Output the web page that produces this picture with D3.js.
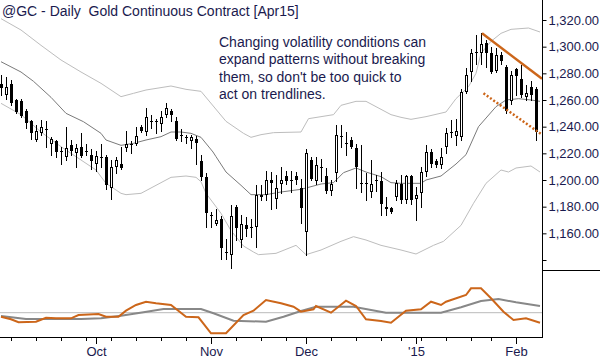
<!DOCTYPE html>
<html>
<head>
<meta charset="utf-8">
<script src="https://cdn.jsdelivr.net/npm/d3@7/dist/d3.min.js"></script>
<style>
  body { margin: 0; background: #fff; }
  svg { display: block; font-family: "Liberation Sans", Arial, sans-serif; }
</style>
</head>
<body>
<div id="chart"></div>
<script>
// trading days shown on the chart
var dates = [
  "2014-09-04","2014-09-05",
  "2014-09-08","2014-09-09","2014-09-10","2014-09-11","2014-09-12",
  "2014-09-15","2014-09-16","2014-09-17","2014-09-18","2014-09-19",
  "2014-09-22","2014-09-23","2014-09-24","2014-09-25","2014-09-26",
  "2014-09-29","2014-09-30","2014-10-01","2014-10-02","2014-10-03",
  "2014-10-06","2014-10-07","2014-10-08","2014-10-09","2014-10-10",
  "2014-10-13","2014-10-14","2014-10-15","2014-10-16","2014-10-17",
  "2014-10-20","2014-10-21","2014-10-22","2014-10-23","2014-10-24",
  "2014-10-27","2014-10-28","2014-10-29","2014-10-30","2014-10-31",
  "2014-11-03","2014-11-04","2014-11-05","2014-11-06","2014-11-07",
  "2014-11-10","2014-11-11","2014-11-12","2014-11-13","2014-11-14",
  "2014-11-17","2014-11-18","2014-11-19","2014-11-20","2014-11-21",
  "2014-11-24","2014-11-25","2014-11-26","2014-11-28",
  "2014-12-01","2014-12-02","2014-12-03","2014-12-04","2014-12-05",
  "2014-12-08","2014-12-09","2014-12-10","2014-12-11","2014-12-12",
  "2014-12-15","2014-12-16","2014-12-17","2014-12-18","2014-12-19",
  "2014-12-22","2014-12-23","2014-12-24","2014-12-26",
  "2014-12-29","2014-12-30","2014-12-31","2015-01-02",
  "2015-01-05","2015-01-06","2015-01-07","2015-01-08","2015-01-09",
  "2015-01-12","2015-01-13","2015-01-14","2015-01-15","2015-01-16",
  "2015-01-20","2015-01-21","2015-01-22","2015-01-23",
  "2015-01-26","2015-01-27","2015-01-28","2015-01-29","2015-01-30",
  "2015-02-02","2015-02-03","2015-02-04","2015-02-05","2015-02-06"
];

var opens = [
  1272,1264,1272,1260,1259,1252,1244,1230,1235,1238,1227,1229,1222,1217,1226,1220,1225,1222,1219,1212,
  1217,1217,1194,1210,1212,1224,1227,1227,1240,1236,1244,1244,1242,1249,1252,1244,1234,1232,1229,1231,
  1214,1202,1174,1167,1171,1146,1144,1180,1155,1166,1165,1165,1189,1189,1200,1186,1197,1203,1200,1203,
  1194,1161,1215,1199,1210,1203,1192,1205,1233,1228,1230,1224,1198,1198,1191,1200,1199,1178,1179,1187,
  1197,1185,1203,1186,1190,1206,1221,1214,1211,1225,1236,1233,1232,1266,1281,1296,1295,1303,1295,1282,
  1294,1285,1259,1283,1276,1262,1270,1268
];
var highs = [
  1279,1277,1275,1261,1261,1253,1245,1241,1245,1244,1232,1230,1225,1240,1230,1227,1235,1227,1223,1222,
  1227,1219,1215,1217,1225,1237,1229,1240,1241,1254,1249,1246,1252,1258,1253,1247,1238,1234,1234,1233,
  1219,1205,1176,1178,1173,1156,1181,1181,1174,1172,1171,1196,1196,1207,1206,1204,1210,1207,1207,1206,
  1201,1223,1217,1217,1216,1209,1200,1241,1241,1236,1232,1227,1226,1205,1215,1204,1206,1187,1180,1200,
  1204,1204,1204,1195,1210,1226,1223,1216,1224,1239,1245,1246,1268,1284,1298,1309,1310,1305,1300,1299,
  1296,1286,1282,1284,1286,1271,1274,1270
];
var lows = [
  1264,1261,1256,1250,1247,1239,1231,1229,1234,1225,1219,1217,1212,1215,1219,1210,1217,1219,1208,1207,
  1210,1193,1186,1205,1208,1222,1220,1226,1236,1234,1239,1235,1237,1247,1244,1230,1229,1228,1224,1212,
  1200,1165,1165,1166,1141,1141,1134,1155,1150,1158,1157,1150,1185,1185,1178,1179,1190,1197,1191,1197,
  1168,1144,1200,1197,1199,1190,1189,1199,1225,1219,1224,1194,1191,1185,1187,1192,1174,1174,1175,1185,
  1183,1183,1182,1170,1180,1203,1210,1210,1209,1220,1232,1226,1230,1265,1274,1287,1287,1285,1280,1281,
  1287,1250,1257,1264,1262,1260,1260,1230
];
var closes = [
  1269,1270,1258,1251,1248,1243,1235,1237,1240,1238,1231,1221,1222,1224,1222,1224,1218,1222,1214,1218,
  1217,1196,1210,1215,1209,1227,1226,1233,1237,1247,1244,1244,1247,1254,1249,1231,1234,1232,1232,1228,
  1202,1175,1174,1170,1149,1146,1173,1164,1167,1163,1165,1189,1187,1200,1198,1194,1200,1199,1200,1200,
  1179,1220,1201,1211,1210,1192,1197,1234,1232,1228,1225,1210,1198,1198,1197,1199,1182,1180,1176,1198,
  1185,1203,1185,1189,1206,1221,1212,1211,1217,1235,1236,1237,1266,1279,1295,1296,1302,1295,1281,1294,
  1289,1252,1279,1278,1264,1265,1264,1236
];

// bollinger bands: [bar index, price]
var upperBand = [
  [0,1321],[4,1312.5],[8,1301],[12,1290],[16,1281],[20,1272.5],[24,1262.5],[26.5,1265],[29,1267.5],
  [34,1270.5],[37,1268],[40,1266.5],[45,1244],[48.5,1235],[50,1232],[52,1234],[54.5,1235.5],[60,1236],
  [61.5,1246],[66.5,1249],[68,1256],[71,1259],[73,1259],[78,1249],[80,1247],[82,1245.5],[85,1247.5],
  [89,1251],[91,1261],[93.5,1270],[95,1280],[96,1295],[98,1304],[100,1310],[102,1313],[105.5,1314],[107.8,1311]
];
var midBand = [
  [0,1288.7],[4,1281],[6.5,1274],[10,1262],[13,1250],[16.5,1243.7],[20,1235],[21,1230],[24,1226],
  [26.5,1227.5],[29,1230],[32,1232.5],[34,1236],[36,1236],[38,1235],[40,1232],[42.4,1221],[43,1217.5],
  [45,1206],[48,1196],[50,1189],[53,1189],[56,1191],[60,1193],[64,1197],[66.5,1198],[68.5,1205.5],
  [71,1209],[73,1206],[76,1202.5],[78,1198],[80,1197.5],[84,1197.5],[85,1200],[88,1203],[91,1212],
  [93,1219],[95.5,1240],[99,1255],[101,1260],[103.5,1261],[106,1260],[107.8,1259]
];
var lowerBand = [
  [0,1257.5],[4,1249],[8,1236],[12,1225],[16,1215],[19,1207.5],[21,1197.5],[24,1190],[25,1189],
  [28,1190],[31,1196],[34,1202],[37,1203],[39,1202],[40,1198.7],[41,1190],[44,1175],[46,1162],
  [48.5,1150.5],[50.5,1146],[51.5,1144],[55,1145],[59,1151],[61,1144],[64,1147.5],[68,1154],
  [70.5,1157.5],[73,1155],[76,1151],[80,1147.5],[83,1144.5],[86.5,1151],[88.5,1154],[92,1166],
  [94.5,1182.5],[97,1197.5],[100,1207.5],[101.5,1206],[103,1209],[106,1210.5],[107.8,1206]
];

// lower panel oscillators: [bar index, value]
var oscFast = [
  [0,20.3],[2,17.7],[3.5,14.7],[7,15.3],[9,19.3],[11,18.7],[14,18.7],[15.5,22],[19.5,23],[21,20.3],
  [23.5,20.3],[25,26.3],[27,32],[29,35.3],[31,33.7],[34,32],[37,20.3],[39.5,19.7],[42,3.7],[45,3.7],
  [48.5,22],[50.5,26.3],[53,37],[56,33.7],[58.5,30.3],[60,25.3],[62.5,27.7],[63,31],[66,24.3],[69,36.3],
  [71,31],[73,17.7],[76,16],[78,14.3],[81,26.3],[84,27.7],[86,35.3],[88,32],[89,35.3],[93,42],[94,48.7],
  [96,48.7],[98,38.7],[100.5,25.3],[102.5,17],[105,18.7],[107.8,14.3]
];
var oscSlow = [
  [0,21],[5,18],[16,18],[20,18.7],[24,21.3],[28.5,24.7],[32.5,28],[40,28],[42.5,23.7],[46.5,16.3],
  [53,15.3],[56.5,20.3],[60,26],[63,30.3],[70.5,30.3],[77,24.3],[88,24.3],[92,29.7],[96,36],
  [99.5,38],[103,34.7],[107.8,31]
];
var oscLevel = 24.3;

// trendlines drawn on the chart: [bar index, price]
var trendTop = [[96.2,1310],[108.2,1276]];
var trendBottom = [[96.5,1265],[108.2,1234]];

var priceTicks = [1140,1160,1180,1200,1220,1240,1260,1280,1300,1320];

var title = "@GC - Daily  Gold Continuous Contract [Apr15]";
var note = ["Changing volatility conditions can", "expand patterns without breaking",
            "them, so don't be too quick to", "act on trendlines."];

var width = 600, height = 360,
    axisX = 542.5, priceBottom = 270, oscBottom = 337,
    textColor = "#1a1a4e", orange = "#cc661a";

var svg = d3.select("#chart").append("svg")
    .attr("width", width)
    .attr("height", height);

var parse = d3.timeParse("%Y-%m-%d");
var days = dates.map(parse);

var x = d3.scaleLinear().domain([0, dates.length - 1]).range([1, 536]);
var y = d3.scaleLinear().domain([1132.5, 1335]).range([priceBottom, 0]);
var yOsc = d3.scaleLinear().domain([0, 65]).range([oscBottom, 272]);

function px(i) { return Math.round(x(i)) + 0.5 }

// bands
var bandLine = d3.line().x(function(d) { return x(d[0]) }).y(function(d) { return y(d[1]) });
svg.append("path").attr("d", bandLine(upperBand))
    .style("fill", "none").style("stroke", "#bdbdbd").style("stroke-width", 1);
svg.append("path").attr("d", bandLine(lowerBand))
    .style("fill", "none").style("stroke", "#bdbdbd").style("stroke-width", 1);
svg.append("path").attr("d", bandLine(midBand))
    .style("fill", "none").style("stroke", "#7a7a7a").style("stroke-width", 1);

// candles
var bars = d3.range(dates.length).map(function(i) {
  return { i: i, o: opens[i], h: highs[i], l: lows[i], c: closes[i] }
});

var candle = svg.append("g").selectAll("g.candle")
    .data(bars)
  .enter().append("g")
    .attr("class", "candle");

candle.append("line")
    .attr("x1", function(d) { return px(d.i) })
    .attr("x2", function(d) { return px(d.i) })
    .attr("y1", function(d) { return Math.round(y(d.h)) })
    .attr("y2", function(d) { return Math.round(y(d.l)) + 1 })
    .style("stroke", "#000")
    .style("stroke-width", 1);

candle.filter(function(d) { return d.c < d.o }).append("rect")
    .attr("x", function(d) { return px(d.i) - 1.5 })
    .attr("width", 3)
    .attr("y", function(d) { return Math.round(y(d.o)) })
    .attr("height", function(d) { return Math.max(1, Math.round(y(d.c)) - Math.round(y(d.o))) })
    .style("fill", "#000");

candle.filter(function(d) { return d.c > d.o }).append("rect")
    .attr("x", function(d) { return px(d.i) - 1 })
    .attr("width", 2)
    .attr("y", function(d) { return Math.round(y(d.c)) + 0.5 })
    .attr("height", function(d) { return Math.max(1, Math.round(y(d.o)) - Math.round(y(d.c)) - 1) })
    .style("fill", "#fff")
    .style("stroke", "#000")
    .style("stroke-width", 1);

candle.filter(function(d) { return d.c == d.o }).append("line")
    .attr("x1", function(d) { return px(d.i) - 1.5 })
    .attr("x2", function(d) { return px(d.i) + 1.5 })
    .attr("y1", function(d) { return Math.round(y(d.c)) + 0.5 })
    .attr("y2", function(d) { return Math.round(y(d.c)) + 0.5 })
    .style("stroke", "#000")
    .style("stroke-width", 1);

// trendlines
svg.append("path").attr("d", bandLine(trendTop))
    .style("fill", "none").style("stroke", orange).style("stroke-width", 2.5);
svg.append("path").attr("d", bandLine(trendBottom))
    .style("fill", "none").style("stroke", orange).style("stroke-width", 2.5)
    .style("stroke-dasharray", "2,2");

// oscillator panel
var oscLine = d3.line().x(function(d) { return x(d[0]) }).y(function(d) { return yOsc(d[1]) });
svg.append("line")
    .attr("x1", 0).attr("x2", axisX)
    .attr("y1", yOsc(oscLevel)).attr("y2", yOsc(oscLevel))
    .style("stroke", "#bbb").style("stroke-width", 1);
svg.append("path").attr("d", oscLine(oscSlow))
    .style("fill", "none").style("stroke", "#888").style("stroke-width", 2);
svg.append("path").attr("d", oscLine(oscFast))
    .style("fill", "none").style("stroke", orange).style("stroke-width", 2);

// price axis
var yAxis = d3.axisRight(y)
    .tickValues(priceTicks)
    .tickSize(4)
    .tickPadding(2)
    .tickFormat(function(d) { return d == 1140 ? "" : d3.format(",.2f")(d) });

var ga = svg.append("g")
    .attr("transform", "translate(" + axisX + ",0)")
    .call(yAxis);
ga.select(".domain").remove();
ga.selectAll("text").style("font-size", "13px").style("fill", textColor)
    .style("font-family", "Liberation Sans, Arial, sans-serif");

// time axis
var weekStarts = d3.range(1, days.length).filter(function(i) {
  return days[i].getDay() < days[i-1].getDay()
});
var monthStarts = d3.range(1, days.length).filter(function(i) {
  return days[i].getMonth() != days[i-1].getMonth()
});
var monthFmt = d3.timeFormat("%b"), yearFmt = d3.timeFormat("'%y");

svg.append("g")
    .attr("transform", "translate(0," + oscBottom + ")")
    .call(d3.axisBottom(x).tickValues(weekStarts).tickSize(4).tickFormat(""))
    .select(".domain").remove();

var gx = svg.append("g")
    .attr("transform", "translate(0," + oscBottom + ")")
    .call(d3.axisBottom(x).tickValues(monthStarts).tickSize(7).tickPadding(3)
      .tickFormat(function(i) { return days[i].getMonth() == 0 ? yearFmt(days[i]) : monthFmt(days[i]) }));
gx.select(".domain").remove();
gx.selectAll("text").style("font-size", "13px").style("fill", textColor)
    .style("font-family", "Liberation Sans, Arial, sans-serif");

// frame
svg.append("line").attr("x1", 0).attr("x2", axisX).attr("y1", oscBottom + 0.5).attr("y2", oscBottom + 0.5)
    .style("stroke", "#000");
svg.append("line").attr("x1", axisX).attr("x2", axisX).attr("y1", 0).attr("y2", oscBottom + 1)
    .style("stroke", "#000");
svg.append("line").attr("x1", axisX).attr("x2", width).attr("y1", priceBottom + 0.5).attr("y2", priceBottom + 0.5)
    .style("stroke", "#000");

// title and note
svg.append("text")
    .attr("x", 2).attr("y", 15.5)
    .attr("xml:space", "preserve")
    .style("white-space", "pre")
    .text(title)
    .style("font-size", "14px").style("fill", textColor);

svg.append("text").selectAll("tspan")
    .data(note)
  .enter().append("tspan")
    .attr("x", 219)
    .attr("y", function(d, k) { return 46.5 + k * 17.5 })
    .text(function(d) { return d })
    .style("font-size", "14px").style("fill", textColor);
</script>
</body>
</html>
